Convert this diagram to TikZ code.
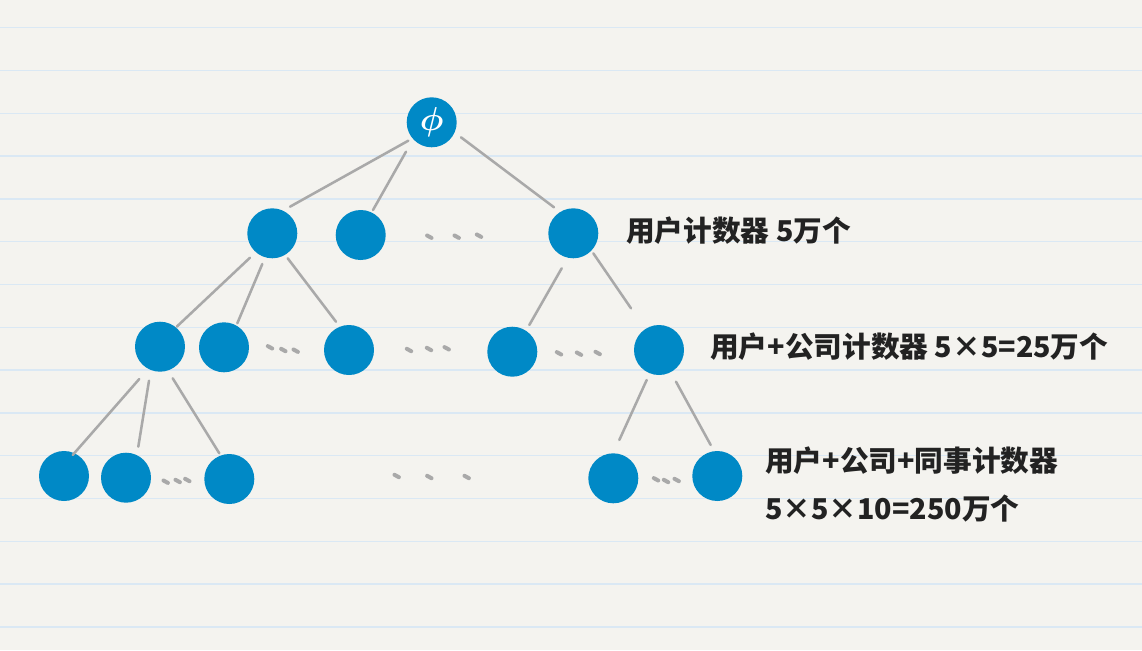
\documentclass[tikz,border=0pt]{standalone}
\usepackage{bm}
\usepackage{fontspec}
\newfontfamily\cjk{Noto Sans CJK SC}
\usetikzlibrary{calc}
\definecolor{bg}{HTML}{F4F3EF}
\definecolor{ruleblue}{HTML}{DAE8F4}
\definecolor{nodeblue}{HTML}{0089C6}
\definecolor{edgegray}{HTML}{A9A9A9}
\definecolor{ink}{HTML}{222222}
\begin{document}
\begin{tikzpicture}[x=0.75pt,y=-0.75pt,
  bnode/.style={circle,fill=nodeblue,minimum size=37.5pt,inner sep=0pt,outer sep=0pt},
  edge/.style={draw=edgegray,line width=1.9pt,line cap=round},
  elli/.style={draw=edgegray,line width=3pt,line cap=round},
  ruleline/.style={draw=ruleblue,line width=1.1pt},
  lbl/.style={font=\cjk\bfseries\fontsize{21.5}{36}\selectfont,text=ink,inner sep=0pt,anchor=west,align=left}]
\fill[bg] (0,0) rectangle (1142,650);
\useasboundingbox (0,0) rectangle (1142,650);
\foreach \i in {0,...,14}
  \draw[ruleline] (0,{27.7+42.8*\i}) -- (1142,{27.7+42.8*\i});
% nodes
\node[bnode,text=white,font=\fontsize{30}{30}\selectfont] (R) at (431.7,122.3) {$\bm{\phi}$};
\node[bnode] (A) at (272.3,233.3) {};
\node[bnode] (B) at (360.7,235) {};
\node[bnode] (C) at (573.3,233.3) {};
\node[bnode] (AA) at (160,346.7) {};
\node[bnode] (AB) at (224,347.3) {};
\node[bnode] (AC) at (349,350) {};
\node[bnode] (CA) at (512.3,351.7) {};
\node[bnode] (CB) at (659,350) {};
\node[bnode] (AAA) at (64,476) {};
\node[bnode] (AAB) at (126,477.7) {};
\node[bnode] (AAC) at (229.3,479) {};
\node[bnode] (CBA) at (613.3,478.3) {};
\node[bnode] (CBB) at (717.3,476) {};
% edges
\draw[edge] ($(R)+(-23.4,18.4)$) -- ($(A)+(17.7,-26.6)$);
\draw[edge] ($(R)+(-25.7,29.4)$) -- ($(B)+(12.3,-25)$);
\draw[edge] ($(R)+(29.3,15)$) -- ($(C)+(-19.3,-26)$);
\draw[edge] ($(A)+(-22.3,24.4)$) -- ($(AA)+(16.7,-20)$);
\draw[edge] ($(A)+(-10,30.7)$) -- ($(AB)+(13.3,-24)$);
\draw[edge] ($(A)+(15.4,25)$) -- ($(AC)+(-13,-28.3)$);
\draw[edge] ($(C)+(-11.6,35)$) -- ($(CA)+(17,-26.7)$);
\draw[edge] ($(C)+(20,20)$) -- ($(CB)+(-28,-41.7)$);
\draw[edge] ($(AA)+(-20.7,32.3)$) -- ($(AAA)+(8.7,-21)$);
\draw[edge] ($(AA)+(-11,34)$) -- ($(AAB)+(12.3,-31)$);
\draw[edge] ($(AA)+(12.7,31.6)$) -- ($(AAC)+(-10,-25.7)$);
\draw[edge] ($(CB)+(-12.3,30)$) -- ($(CBA)+(6,-38.3)$);
\draw[edge] ($(CB)+(17,31.7)$) -- ($(CBB)+(-6.6,-31)$);
% ellipsis marks
\foreach \x/\y in {429.3/236.7,456.7/236.7,479/235.7,
  270/347.3,283.3/350,295.7/350.7,
  409/350,429/349,446.7/348.3,
  559/353.3,579/353.7,597.7/353,
  165.7/481.7,177.7/481,187.3/480,
  396.7/476,429.3/477,466.7/477,
  656/479.3,666/481,676.7/480}
  \draw[elli] ({\x-2.2},{\y-1.2}) -- ({\x+2.2},{\y+1.2});
% labels
\node[lbl] (t1) at (626,231) {用户计数器 5万个};
\node[lbl] (t2) at (710,347) {用户+公司计数器 5×5=25万个};
\node[lbl] (t3) at (765,484) {用户+公司+同事计数器\\5×5×10=250万个};
\end{tikzpicture}
\end{document}
